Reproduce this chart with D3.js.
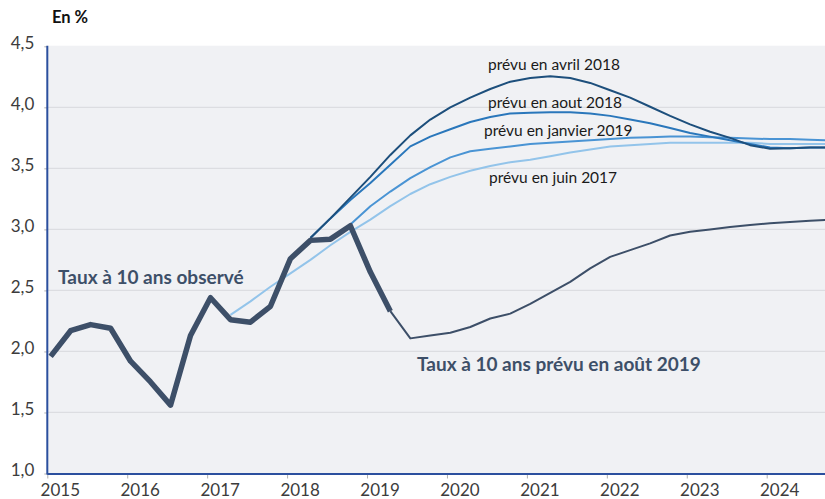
<!DOCTYPE html>
<meta charset="utf-8">
<style>
  body { margin: 0; background: #fff; }
  svg { display: block; }
</style>
<body>
<svg width="825" height="499"></svg>
<script src="https://d3js.org/d3.v7.min.js"></script>
<script>
  // quarters 2015T1 .. 2024T4 (index 0..39)
  var years = [2015, 2016, 2017, 2018, 2019, 2020, 2021, 2022, 2023, 2024];
  var yTicks = [1.0, 1.5, 2.0, 2.5, 3.0, 3.5, 4.0, 4.5];

  // observed 10-year rate, from 2015T1
  var observed = [1.96, 2.17, 2.22, 2.19, 1.92, 1.75, 1.56, 2.13, 2.44, 2.26,
    2.24, 2.37, 2.76, 2.91, 2.92, 3.03, 2.65, 2.33];

  // forecasts (first value = quarter index given in start)
  var juin2017Start = 9;
  var juin2017 = [2.30, 2.41, 2.53, 2.64, 2.75, 2.87, 2.98, 3.08, 3.19, 3.29,
    3.37, 3.43, 3.48, 3.52, 3.55, 3.57, 3.60, 3.63, 3.655, 3.68, 3.69, 3.70,
    3.71, 3.71, 3.71, 3.71, 3.71, 3.70, 3.70, 3.70, 3.70];

  var avril2018Start = 13;
  var avril2018 = [2.93, 3.09, 3.26, 3.43, 3.61, 3.77, 3.90, 4.00, 4.08, 4.15,
    4.21, 4.24, 4.255, 4.24, 4.20, 4.14, 4.08, 4.005, 3.93, 3.86, 3.80, 3.75,
    3.69, 3.66, 3.665, 3.67, 3.67];

  var aout2018Start = 13;
  var aout2018 = [2.93, 3.09, 3.24, 3.38, 3.53, 3.68, 3.76, 3.82, 3.88, 3.92,
    3.95, 3.955, 3.96, 3.96, 3.95, 3.93, 3.90, 3.87, 3.83, 3.79, 3.76, 3.73,
    3.70, 3.67, 3.665, 3.67, 3.67];

  var janvier2019Start = 15;
  var janvier2019 = [3.04, 3.19, 3.31, 3.42, 3.51, 3.59, 3.64, 3.66, 3.68, 3.70,
    3.71, 3.72, 3.73, 3.74, 3.75, 3.755, 3.76, 3.76, 3.755, 3.75, 3.745, 3.74,
    3.74, 3.735, 3.73];

  var aout2019Start = 17;
  var aout2019 = [2.33, 2.107, 2.13, 2.153, 2.20, 2.27, 2.31, 2.39, 2.48, 2.57,
    2.68, 2.775, 2.83, 2.885, 2.95, 2.98, 3.00, 3.02, 3.035, 3.05, 3.06, 3.07,
    3.08];

  var svg = d3.select('svg');
  var plotLeft = 47.3, plotRight = 825, plotTop = 45.7, plotBottom = 473.5;

  var x = d3.scaleLinear().domain([2015, 2024]).range([plotLeft, 766.7]);
  var y = d3.scaleLinear().domain([1, 4.5]).range([plotBottom, 46.3]);

  // quarter index -> fractional year (points sit mid-month of the quarter's first month)
  function qx(i) { return x(2015 + i / 4 + 1 / 24); }

  var fr = d3.formatLocale({decimal: ',', thousands: ' ', grouping: [3], currency: ['', '€']});
  var fmt = fr.format('.1f');
  var font = 'Lato, sans-serif';

  // plot background
  svg.append('rect')
    .attr('x', plotLeft).attr('y', plotTop)
    .attr('width', plotRight - plotLeft).attr('height', plotBottom - plotTop)
    .attr('fill', '#f0f1f4');

  svg.append('defs').append('clipPath').attr('id', 'plot')
    .append('rect')
    .attr('x', plotLeft).attr('y', plotTop)
    .attr('width', plotRight - plotLeft).attr('height', plotBottom - plotTop);

  // gridlines
  svg.append('g').selectAll('line')
    .data(yTicks.filter(function (d) { return d > 1 && d < 4.5; }))
    .enter().append('line')
    .attr('x1', plotLeft).attr('x2', plotRight)
    .attr('y1', function (d) { return y(d); })
    .attr('y2', function (d) { return y(d); })
    .attr('stroke', '#dcdde1')
    .attr('stroke-width', 1.3);

  // y axis
  var yAxis = svg.append('g')
    .attr('transform', 'translate(' + plotLeft + ',0)')
    .call(d3.axisLeft(y).tickValues(yTicks).tickFormat(fmt).tickSize(3).tickPadding(10));
  yAxis.select('.domain').remove();
  yAxis.selectAll('line').attr('stroke', '#b0b0b0');
  yAxis.selectAll('text')
    .attr('dy', '0.13em')
    .style('font-family', font)
    .style('font-size', '17px')
    .attr('fill', '#3c3c3c');

  // x axis
  var xAxis = svg.append('g')
    .attr('transform', 'translate(0,' + plotBottom + ')')
    .call(d3.axisBottom(x).tickValues(years).tickFormat(d3.format('d')).tickSize(5));
  xAxis.select('.domain').remove();
  xAxis.selectAll('line').attr('stroke', '#b0b0b0');
  xAxis.selectAll('text')
    .attr('y', 22.5).attr('dy', 0).attr('dx', 12.5)
    .style('font-family', font)
    .style('font-size', '17px')
    .attr('fill', '#3c3c3c');

  // blue axis lines
  svg.append('line')
    .attr('x1', plotLeft).attr('x2', plotLeft).attr('y1', plotTop).attr('y2', plotBottom + 1)
    .attr('stroke', '#2b4f9e').attr('stroke-width', 2);
  svg.append('line')
    .attr('x1', plotLeft).attr('x2', plotRight).attr('y1', plotBottom + 0.5).attr('y2', plotBottom + 0.5)
    .attr('stroke', '#2b4f9e').attr('stroke-width', 2);

  svg.append('text')
    .attr('x', 52).attr('y', 23)
    .text('En %')
    .style('font-family', font)
    .style('font-weight', 'bold')
    .style('font-size', '16.5px')
    .attr('fill', '#111');

  var line = d3.line()
    .x(function (d) { return qx(d.i); })
    .y(function (d) { return y(d.v); });

  function toPoints(start, vals) {
    return vals.map(function (v, k) { return {i: start + k, v: v}; });
  }

  var series = [
    {pts: toPoints(juin2017Start, juin2017), color: '#93c4ea', w: 2},
    {pts: toPoints(janvier2019Start, janvier2019), color: '#4a94d4', w: 2},
    {pts: toPoints(aout2018Start, aout2018), color: '#2a77bb', w: 2},
    {pts: toPoints(avril2018Start, avril2018), color: '#1d4f7c', w: 2},
    {pts: toPoints(aout2019Start, aout2019), color: '#3d4f68', w: 2},
    {pts: toPoints(0, observed), color: '#3d4f68', w: 5.5}
  ];

  svg.append('g').attr('clip-path', 'url(#plot)')
    .selectAll('path')
    .data(series)
    .enter().append('path')
    .attr('d', function (d) { return line(d.pts); })
    .attr('fill', 'none')
    .attr('stroke', function (d) { return d.color; })
    .attr('stroke-width', function (d) { return d.w; })
    .attr('stroke-linejoin', 'round');

  // labels
  var labels = [
    {t: 'prévu en avril 2018', x: 488, y: 70},
    {t: 'prévu en aout 2018', x: 488, y: 108},
    {t: 'prévu en janvier 2019', x: 484, y: 135.5},
    {t: 'prévu en juin 2017', x: 489, y: 182.5}
  ];
  svg.append('g').selectAll('text')
    .data(labels)
    .enter().append('text')
    .attr('x', function (d) { return d.x; })
    .attr('y', function (d) { return d.y; })
    .text(function (d) { return d.t; })
    .style('font-family', font)
    .style('font-size', '15.5px')
    .attr('fill', '#1a1a1a');

  svg.append('text')
    .attr('x', 58).attr('y', 284)
    .text('Taux à 10 ans observé')
    .style('font-family', font)
    .style('font-weight', 'bold')
    .style('font-size', '19px')
    .attr('fill', '#3d4f68');

  svg.append('text')
    .attr('x', 417).attr('y', 371)
    .text('Taux à 10 ans prévu en août 2019')
    .style('font-family', font)
    .style('font-weight', 'bold')
    .style('font-size', '19px')
    .attr('fill', '#3d4f68');
</script>
</body>
